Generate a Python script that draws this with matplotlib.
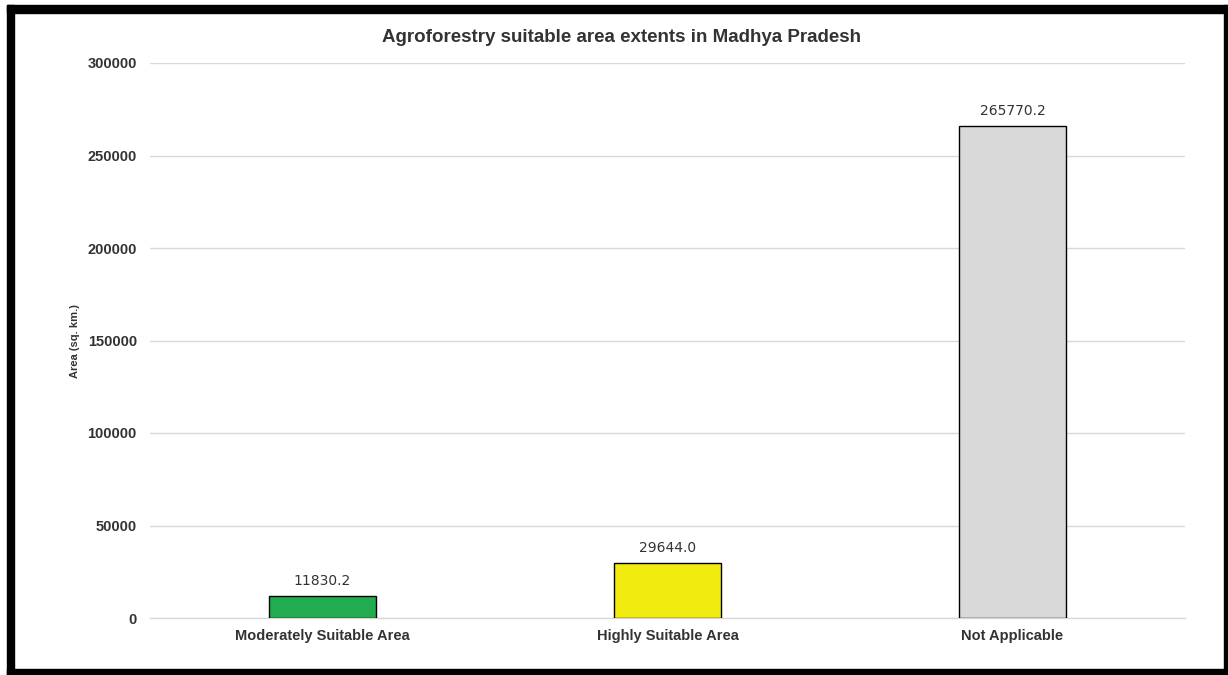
import matplotlib.pyplot as plt
from matplotlib.patches import Rectangle

categories = ['Moderately Suitable Area', 'Highly Suitable Area', 'Not Applicable']
areas = [11830.2, 29644.0, 265770.2]
bar_colors = ['#21ad4f', '#f2eb0f', '#d9d9d9']
yticks = [0, 50000, 100000, 150000, 200000, 250000, 300000]

W, H = 1228, 675
fig = plt.figure(figsize=(W / 100, H / 100), dpi=100)
lab_font = 'Liberation Sans'

# black frame around the picture
frame = [(7, 5, 1228 - 7, 8), (7, 5, 7, 675 - 5), (1224, 5, 4, 670), (7, 669, 1221, 6)]
for x, y, w, h in frame:
    fig.patches.append(Rectangle((x / W, 1 - (y + h) / H), w / W, h / H,
                                 transform=fig.transFigure, color='black', zorder=0))

ax = fig.add_axes([150 / W, 1 - 618 / H, 1035 / W, 555 / H])
bars = ax.bar(categories, areas, width=0.313, color=bar_colors,
              edgecolor='black', linewidth=1.0, zorder=3)

ax.set_ylim(0, 300000)
ax.set_yticks(yticks)
ax.set_yticklabels([str(t) for t in yticks], fontsize=10.5, fontweight='bold',
                   color='#333333', family=lab_font)
ax.set_xlim(-0.5, 2.5)
for lab in ax.get_xticklabels():
    lab.set_fontsize(10.5)
    lab.set_fontweight('bold')
    lab.set_color('#333333')
    lab.set_family(lab_font)
ax.tick_params(axis='both', length=0)
ax.tick_params(axis='y', pad=9.5)
ax.tick_params(axis='x', pad=8)
ax.grid(axis='y', color='#d9d9d9', linewidth=1.0, zorder=0)
ax.axhline(0, color='#d9d9d9', linewidth=1.0, zorder=1, clip_on=False)
for s in ax.spines.values():
    s.set_visible(False)

for b, v in zip(bars, areas):
    ax.annotate(f'{v:.1f}', (b.get_x() + b.get_width() / 2, v), xytext=(0, 6),
                textcoords='offset points', ha='center', va='bottom',
                fontsize=10, color='#333333')

fig.text(622 / W, 1 - 38 / H, 'Agroforestry suitable area extents in Madhya Pradesh',
         ha='center', va='center', fontsize=13.5, fontweight='bold', color='#333333',
         family=lab_font)
fig.text(75 / W, 1 - 341 / H, 'Area (sq. km.)', rotation=90, ha='center', va='center',
         fontsize=8, fontweight='bold', color='#333333', family=lab_font)

fig.savefig('out.png', dpi=100, facecolor='white')
